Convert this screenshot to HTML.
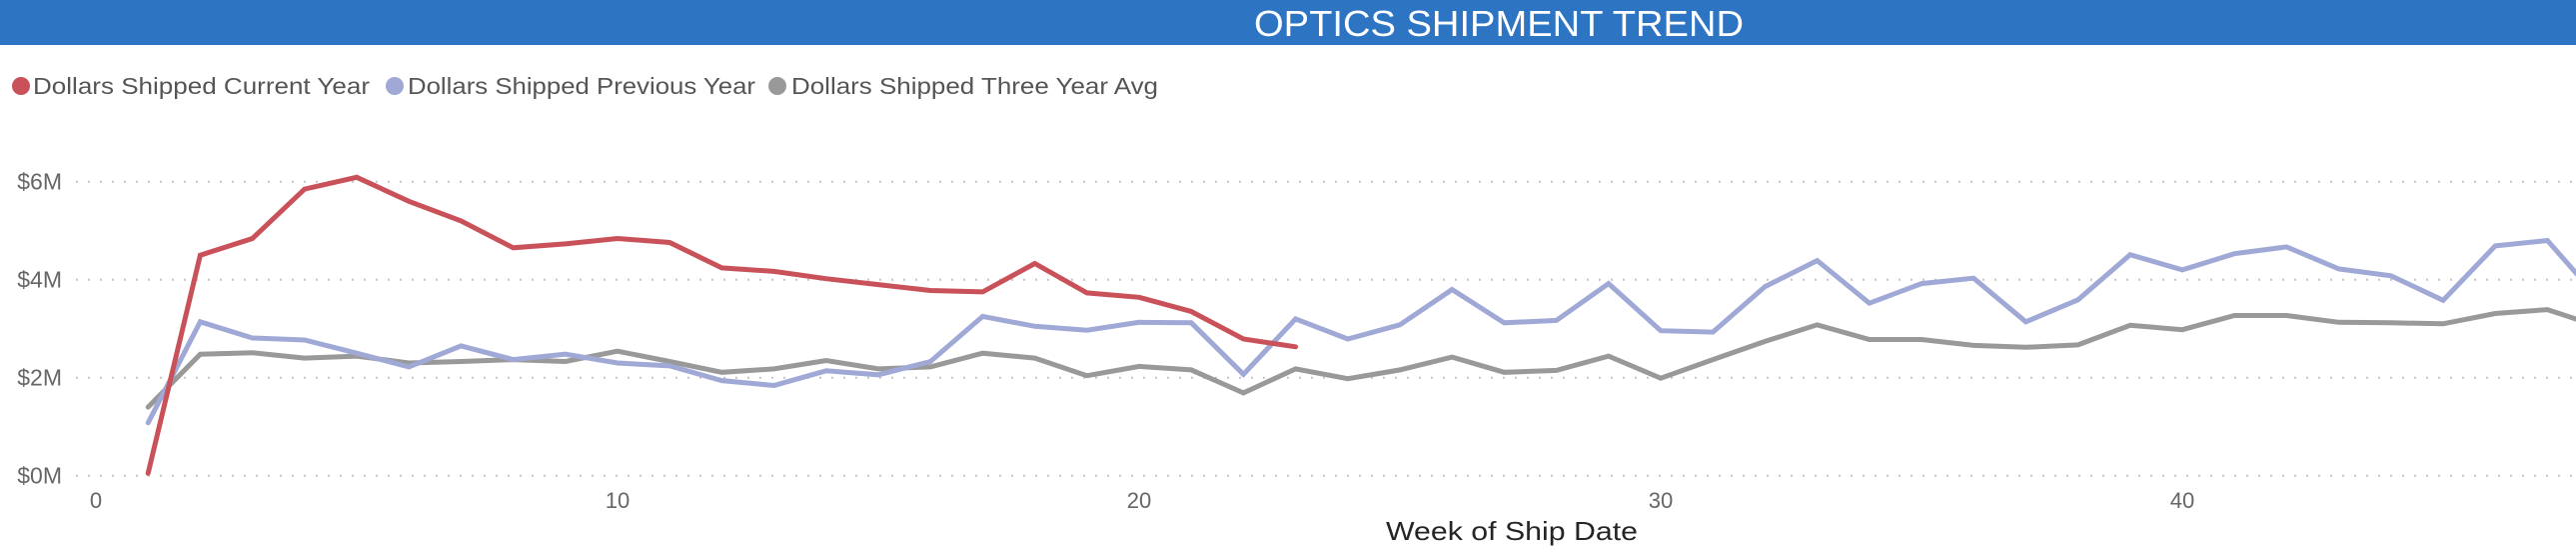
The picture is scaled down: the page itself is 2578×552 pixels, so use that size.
<!DOCTYPE html>
<html><head><meta charset="utf-8"><style>
html,body{margin:0;padding:0;background:#fff;width:2578px;height:552px;overflow:hidden}
svg{display:block;font-family:"Liberation Sans",sans-serif}
</style></head><body>
<svg id="chart" width="2578" height="552" viewBox="0 0 2578 552">
  <rect x="0" y="0" width="2578" height="45" fill="#2d74c3"/>
  <text x="1500" y="36" text-anchor="middle" fill="#fff" font-size="36" textLength="490" lengthAdjust="spacingAndGlyphs">OPTICS SHIPMENT TREND</text>
  <g>
    <g>
      <circle cx="21" cy="86" r="9" fill="#c9525a"/>
      <text x="33" y="94" font-size="23" fill="#555" textLength="337" lengthAdjust="spacingAndGlyphs">Dollars Shipped Current Year</text>
    </g>
    <g>
      <circle cx="395" cy="86" r="9" fill="#a0a9d6"/>
      <text x="408" y="94" font-size="23" fill="#555" textLength="348" lengthAdjust="spacingAndGlyphs">Dollars Shipped Previous Year</text>
    </g>
    <g>
      <circle cx="778" cy="86" r="9" fill="#999"/>
      <text x="792" y="94" font-size="23" fill="#555" textLength="367" lengthAdjust="spacingAndGlyphs">Dollars Shipped Three Year Avg</text>
    </g>
  </g>
  <g id="grid"></g>
  <g id="yticks"></g>
  <g id="xticks"></g>
  <g id="series"></g>
  <text x="1513" y="540" text-anchor="middle" font-size="26" fill="#252525" textLength="252" lengthAdjust="spacingAndGlyphs">Week of Ship Date</text>
</svg>
<script>
const weeks = [1,2,3,4,5,6,7,8,9,10,11,12,13,14,15,16,17,18,19,20,21,22,23,24,25,26,27,28,29,30,31,32,33,34,35,36,37,38,39,40,41,42,43,44,45,46,47,48];
const currentYear = [0.05,4.5,4.84,5.85,6.09,5.6,5.2,4.65,4.73,4.84,4.76,4.24,4.17,4.02,3.9,3.78,3.75,4.33,3.73,3.64,3.35,2.79,2.63];
const previousYear = [1.08,3.14,2.81,2.77,2.5,2.22,2.65,2.37,2.48,2.3,2.24,1.94,1.84,2.14,2.06,2.33,3.25,3.05,2.97,3.13,3.12,2.07,3.2,2.79,3.08,3.8,3.12,3.17,3.92,2.96,2.93,3.86,4.39,3.52,3.92,4.03,3.14,3.59,4.51,4.2,4.53,4.67,4.22,4.08,3.58,4.69,4.8,3.59];
const threeYearAvg = [1.4,2.48,2.51,2.4,2.44,2.3,2.33,2.37,2.33,2.54,2.33,2.11,2.18,2.35,2.18,2.22,2.5,2.4,2.04,2.23,2.16,1.69,2.18,1.98,2.16,2.42,2.11,2.15,2.44,1.99,2.37,2.74,3.08,2.78,2.78,2.66,2.62,2.67,3.07,2.98,3.27,3.27,3.13,3.12,3.1,3.31,3.39,3.04];
const yTicks = [0,2,4,6];
const yTickLabels = ["$0M","$2M","$4M","$6M"];
const xTicks = [0,10,20,30,40];

const NS = "http://www.w3.org/2000/svg";
const xScale = w => 96 + 52.2 * w;
const yScale = v => 475.7 - 49 * v;

const grid = document.getElementById('grid');
const yt = document.getElementById('yticks');
yTicks.forEach((t, i) => {
  const l = document.createElementNS(NS, 'line');
  l.setAttribute('x1', 76); l.setAttribute('x2', 2578);
  l.setAttribute('y1', yScale(t)); l.setAttribute('y2', yScale(t));
  l.setAttribute('stroke', '#c4c4c4'); l.setAttribute('stroke-width', 2);
  l.setAttribute('stroke-dasharray', '2 10');
  
  
  grid.appendChild(l);
  const tx = document.createElementNS(NS, 'text');
  tx.setAttribute('x', 62); tx.setAttribute('y', yScale(t) + 8);
  tx.setAttribute('text-anchor', 'end'); tx.setAttribute('font-size', '23');
  tx.setAttribute('fill', '#666');
  tx.textContent = yTickLabels[i];
  
  
  yt.appendChild(tx);
});
const xt = document.getElementById('xticks');
xTicks.forEach(t => {
  const tx = document.createElementNS(NS, 'text');
  tx.setAttribute('x', xScale(t)); tx.setAttribute('y', 508);
  tx.setAttribute('text-anchor', 'middle'); tx.setAttribute('font-size', '22');
  tx.setAttribute('fill', '#666');
  tx.textContent = String(t);
  
  
  xt.appendChild(tx);
});
const series = document.getElementById('series');
function drawLine(vals, color, name) {
  const pts = vals.map((v, i) => xScale(weeks[i]).toFixed(1) + ',' + yScale(v).toFixed(1)).join(' ');
  const p = document.createElementNS(NS, 'polyline');
  p.setAttribute('points', pts);
  p.setAttribute('fill', 'none'); p.setAttribute('stroke', color);
  p.setAttribute('stroke-width', 5); p.setAttribute('stroke-linejoin', 'miter');
  p.setAttribute('stroke-linecap', 'round');
  
  
  series.appendChild(p);
}
drawLine(threeYearAvg, '#999999', 'three-year-avg-line');
drawLine(previousYear, '#a0a9d6', 'previous-year-line');
drawLine(currentYear, '#c9525a', 'current-year-line');
</script>
</body></html>
